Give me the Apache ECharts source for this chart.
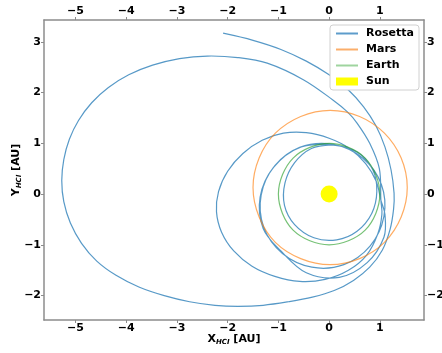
<!DOCTYPE html>
<html>
<head>
<meta charset="utf-8">
<script src="https://cdn.jsdelivr.net/npm/echarts@6/dist/echarts.min.js"></script>
<style>
  html, body { margin: 0; padding: 0; background: #fff; }
  #chart { width: 442px; height: 353px; }
</style>
</head>
<body>
<div id="chart"></div>
<script>
// tick labels
const xTicks = [-5, -4, -3, -2, -1, 0, 1]
const yTicks = [-2, -1, 0, 1, 2, 3]

// Rosetta heliocentric path [x, y] in AU
const rosettaPath = [
  // launch -> first Earth swing-by
  [0.05, 0.97], [-0.35, 0.9], [-0.68, 0.62], [-0.87, 0.22], [-0.88, -0.22], [-0.68, -0.6],
  [-0.3, -0.86], [0.15, -0.9], [0.55, -0.73], [0.84, -0.38], [0.94, 0.05], [0.86, 0.48],
  [0.55, 0.83], [0.05, 0.97],
  // to Mars swing-by
  [-0.55, 0.93], [-1.07, 0.56], [-1.34, -0.02], [-1.29, -0.65], [-0.92, -1.17], [-0.34, -1.44],
  [0.29, -1.39], [0.81, -1.02], [1.08, -0.44], [1.03, 0.19], [0.66, 0.71], [0.08, 0.98],
  [-0.58, 0.92], [-1.1, 0.52], [-1.36, -0.06], [-1.3, -0.68], [-0.95, -1.12],
  // to second Earth swing-by
  [-0.45, -1.55], [0.2, -1.64], [0.75, -1.35], [1.08, -0.85], [1.1, -0.4], [1.02, -0.12],
  // to third Earth swing-by
  [0.93, 0.25], [0.72, 0.6], [0.4, 0.9], [0.0, 1.1], [-0.45, 1.21], [-0.9, 1.2], [-1.32, 1.06],
  [-1.7, 0.8], [-2.0, 0.45], [-2.18, 0.05], [-2.22, -0.35], [-2.12, -0.75], [-1.88, -1.12],
  [-1.52, -1.42], [-1.07, -1.62], [-0.58, -1.72], [-0.08, -1.68], [0.38, -1.5], [0.74, -1.2],
  [0.96, -0.78], [1.04, -0.4], [1.02, -0.12],
  // outer loop and comet phase
  [0.99, 0.5], [0.8, 1.0], [0.55, 1.4], [0.36, 1.62], [0.08, 1.85], [-0.5, 2.25], [-1.22, 2.58],
  [-1.8, 2.69], [-2.4, 2.72], [-2.95, 2.67], [-3.48, 2.54], [-3.95, 2.35], [-4.35, 2.1],
  [-4.68, 1.8], [-4.94, 1.45], [-5.12, 1.08], [-5.23, 0.68], [-5.27, 0.27], [-5.23, -0.15],
  [-5.1, -0.57], [-4.88, -0.97], [-4.58, -1.32], [-4.2, -1.6], [-3.75, -1.83], [-3.25, -2.0],
  [-2.75, -2.12], [-2.25, -2.19], [-1.8, -2.21], [-1.3, -2.19], [-0.8, -2.12], [-0.33, -2.03],
  [0.1, -1.9], [0.48, -1.7], [0.8, -1.44], [1.05, -1.1], [1.2, -0.7], [1.27, -0.3],
  [1.28, 0.02], [1.22, 0.48], [1.1, 0.93], [0.92, 1.35], [0.68, 1.72], [0.38, 2.05],
  [0.0, 2.35], [-0.45, 2.62], [-0.95, 2.85], [-1.5, 3.03], [-2.09, 3.17]
]

// closed orbits (first point not repeated)
const marsOrbit = [
  [1.54, 0.13], [1.42, 0.71], [1.09, 1.2], [0.6, 1.53], [0.02, 1.65], [-0.56, 1.53], [-1.06, 1.2],
  [-1.38, 0.71], [-1.5, 0.13], [-1.38, -0.45], [-1.06, -0.95], [-0.56, -1.27], [0.02, -1.39],
  [0.6, -1.27], [1.09, -0.95], [1.42, -0.45]
]

const earthOrbit = [
  [1, 0], [0.92, 0.38], [0.71, 0.71], [0.38, 0.92], [0, 1], [-0.38, 0.92], [-0.71, 0.71],
  [-0.92, 0.38], [-1, 0], [-0.92, -0.38], [-0.71, -0.71], [-0.38, -0.92], [0, -1],
  [0.38, -0.92], [0.71, -0.71], [0.92, -0.38]
]

const sunPos = [[0, 0]]

const font = "DejaVu Sans"
const frameColor = "#8c8c8c"
const fmt = v => String(v).replace("-", "\u2212")
const lineIcon = "path://M0,0 L22,0 L22,2 L0,2 Z"

function xAxisOf(position) {
  return {
    type: "value",
    position,
    min: -5.62,
    max: 1.87,
    axisLine: { onZero: false, lineStyle: { color: frameColor, width: 1.5 } },
    axisTick: { show: true, length: 3, customValues: xTicks, lineStyle: { color: frameColor } },
    axisLabel: { margin: 3, customValues: xTicks, formatter: fmt, color: "#000", fontFamily: font, fontWeight: "bold", fontSize: 11 },
    splitLine: { show: false }
  }
}

function yAxisOf(position) {
  return {
    type: "value",
    position,
    min: -2.48,
    max: 3.43,
    axisLine: { onZero: false, lineStyle: { color: frameColor, width: 1.5 } },
    axisTick: { show: true, length: 3, customValues: yTicks, lineStyle: { color: frameColor } },
    axisLabel: { margin: 3, customValues: yTicks, formatter: fmt, color: "#000", fontFamily: font, fontWeight: "bold", fontSize: 11 },
    splitLine: { show: false }
  }
}

// one smooth stroke through all points of a series, placed with the axes' scales
function orbitSeries(name, pts, color, opacity, closed) {
  return {
    name,
    type: "custom",
    coordinateSystem: "cartesian2d",
    data: pts,
    encode: { x: 0, y: 1 },
    silent: true,
    itemStyle: { color },
    renderItem: (params, api) => {
      if (params.dataIndex !== 0) return null
      const points = pts.map(p => api.coord(p))
      return {
        type: closed ? "polygon" : "polyline",
        shape: { points, smooth: 0.35 },
        style: { fill: "none", stroke: color, lineWidth: 1.2, opacity }
      }
    }
  }
}

const nameRich = {
  m: { fontFamily: font, fontWeight: "bold", fontSize: 11, color: "#000" },
  s: { fontFamily: font, fontWeight: "bold", fontStyle: "italic", fontSize: 7, color: "#000", padding: [6, 0, 0, 0] }
}

const xBottom = xAxisOf("bottom")
xBottom.name = "{m|X}{s|HCI}{m| [AU]}"
xBottom.nameLocation = "middle"
xBottom.nameGap = 13
xBottom.nameMoveOverlap = false
xBottom.nameTextStyle = { rich: nameRich }

const yLeft = yAxisOf("left")
yLeft.name = "{m|Y}{s|HCI}{m| [AU]}"
yLeft.nameLocation = "middle"
yLeft.nameGap = 21
yLeft.nameMoveOverlap = false
yLeft.nameTextStyle = { rich: nameRich }

const chart = echarts.init(document.getElementById("chart"), null, { renderer: "canvas" })

chart.setOption({
  animation: false,
  backgroundColor: "#fff",
  grid: { left: 44, top: 20, width: 380, height: 300, outerBoundsMode: "none", containLabel: false },
  xAxis: [xBottom, xAxisOf("top")],
  yAxis: [yLeft, yAxisOf("right")],
  legend: {
    orient: "vertical",
    right: 23,
    top: 25,
    itemWidth: 22,
    itemHeight: 8,
    itemGap: 5,
    padding: [3, 5, 3, 6],
    backgroundColor: "#fff",
    borderColor: "#d0d0d0",
    borderWidth: 1,
    borderRadius: 3,
    textStyle: { fontFamily: font, fontWeight: "bold", fontSize: 11, color: "#000", padding: [0, 0, 0, 3] },
    data: [
      { name: "Rosetta", icon: lineIcon, itemStyle: { color: "#5d9ccb" } },
      { name: "Mars", icon: lineIcon, itemStyle: { color: "#fbae6b" } },
      { name: "Earth", icon: lineIcon, itemStyle: { color: "#9fd49f" } },
      { name: "Sun", icon: "rect", itemStyle: { color: "#ffff00" } }
    ]
  },
  series: [
    orbitSeries("Rosetta", rosettaPath, "#1f77b4", 0.75, false),
    orbitSeries("Mars", marsOrbit, "#ff7f0e", 0.65, true),
    orbitSeries("Earth", earthOrbit, "#2ca02c", 0.65, true),
    {
      name: "Sun",
      type: "scatter",
      data: sunPos,
      symbolSize: 17,
      itemStyle: { color: "#ffff00", opacity: 1 }
    }
  ]
})
</script>
</body>
</html>
